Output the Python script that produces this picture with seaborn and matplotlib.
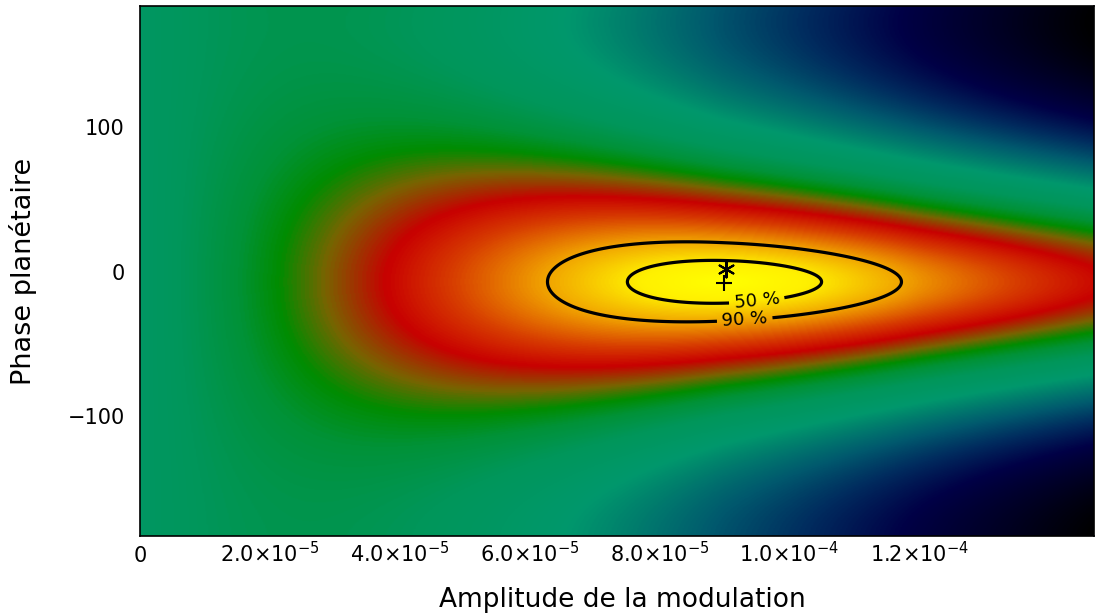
import numpy as np
import matplotlib
matplotlib.use("Agg")
import matplotlib.pyplot as plt
from matplotlib.colors import LinearSegmentedColormap, Normalize
import seaborn as sns

# axis ranges (amplitude in units of 1e-5, phase in degrees)
amp_range = [0.0, 14.69]
phase_range = [-183.0, 184.0]

# likelihood model
amp_peak = 9.0          # x1e-5
phase_peak = -7.0       # deg
amp_width = 1.27        # x1e-5
amp_width_growth = 0.06
phase_width = 12.5      # deg
amp_power_left = 1.38
amp_power_right = 1.15

# markers
best_fit = [9.0, -7.5]      # '+'
reference = [9.03, 2.0]     # '*'

# credible regions
conf_levels = [0.50, 0.90]
conf_labels = ["50 %", "90 %"]
label_pos = [(9.49, -16.9), (9.31, -32.0)]

xtick_values = [0, 2, 4, 6, 8, 10, 12]
xtick_labels = ["0", r"$2.0{\times}10^{-5}$", r"$4.0{\times}10^{-5}$", r"$6.0{\times}10^{-5}$",
                r"$8.0{\times}10^{-5}$", r"$1.0{\times}10^{-4}$", r"$1.2{\times}10^{-4}$"]
ytick_values = [-100, 0, 100]
ytick_labels = ["\u2212100", "0", "100"]

# colour table: position in sqrt(chi2) -> colour
cmap_pos = [0.0, 1.0, 2.2, 3.3, 4.1, 4.85, 5.4, 5.9, 6.6, 7.6, 9.0, 9.9, 10.9, 11.9, 12.8]
cmap_rgb = [(255, 255, 0), (255, 240, 0), (240, 160, 0), (215, 60, 0), (200, 0, 0),
            (120, 100, 0), (0, 140, 0), (0, 146, 55), (0, 150, 90), (0, 152, 108),
            (0, 90, 110), (0, 45, 95), (0, 0, 70), (0, 0, 35), (0, 0, 0)]

sns.set_style("white")
plt.rcParams["font.family"] = ["DejaVu Sans"]
plt.rcParams["mathtext.fontset"] = "dejavusans"
plt.rcParams.update({"text.color": "black", "axes.labelcolor": "black",
                     "xtick.color": "black", "ytick.color": "black"})

# likelihood surface
amp = np.linspace(amp_range[0], amp_range[1], 700)
phase = np.linspace(phase_range[0], phase_range[1], 600)
AA, PP = np.meshgrid(amp, phase)
sig_a = amp_width + amp_width_growth * np.clip(AA - amp_peak - 3.0, 0, None)
a2 = ((AA - amp_peak) / sig_a) ** 2
dphi = np.deg2rad(PP - phase_peak)
h = 2 * (1 - np.cos(dphi)) / np.deg2rad(phase_width) ** 2
power = np.where(AA < amp_peak, amp_power_left, amp_power_right)
chi2 = a2 + (AA / amp_peak) ** power * h
s = np.sqrt(chi2)

cmap = LinearSegmentedColormap.from_list(
    "idl", [(p / cmap_pos[-1], tuple(c / 255 for c in rgb)) for p, rgb in zip(cmap_pos, cmap_rgb)])

fig = plt.figure(figsize=(10.95, 6.16), dpi=100)
ax = fig.add_axes([140 / 1095, 80 / 616, 954 / 1095, 530 / 616])

ax.imshow(s, extent=[amp_range[0] * 1e-5, amp_range[1] * 1e-5, phase_range[0], phase_range[1]],
          origin="lower", aspect="auto", cmap=cmap, norm=Normalize(0, cmap_pos[-1]),
          interpolation="bilinear")

levels = [-2 * np.log(1 - p) for p in conf_levels]
cs = ax.contour(AA * 1e-5, PP, chi2, levels=levels, colors="black", linewidths=2.3)
ax.clabel(cs, levels, fmt=dict(zip(cs.levels, conf_labels)), inline=True, fontsize=13,
          manual=[(x * 1e-5, y) for x, y in label_pos])

sns.scatterplot(x=[reference[0] * 1e-5], y=[reference[1]], marker=(6, 2, 0), s=130,
                color="black", linewidth=1.5, ax=ax, zorder=5)
sns.scatterplot(x=[best_fit[0] * 1e-5], y=[best_fit[1]], marker="+", s=130,
                color="black", linewidth=1.5, ax=ax, zorder=5)

ax.set_xlim(amp_range[0] * 1e-5, amp_range[1] * 1e-5)
ax.set_ylim(phase_range[0], phase_range[1])
ax.set_xticks([v * 1e-5 for v in xtick_values])
ax.set_xticklabels(xtick_labels)
ax.set_yticks(ytick_values)
ax.set_yticklabels(ytick_labels)
ax.tick_params(length=0, labelsize=15)
ax.tick_params(axis="y", pad=11)
ax.tick_params(axis="x", pad=19)
for lab in ax.get_xticklabels():
    lab.set_va("baseline")

ax.set_xlabel("Amplitude de la modulation", fontsize=19)
ax.xaxis.set_label_coords(0.506, -0.134)
ax.xaxis.label.set_va("baseline")
ax.set_ylabel("Phase planétaire", fontsize=19.5)
ax.yaxis.set_label_coords(-0.1226, 0.5)
ax.yaxis.label.set_va("center")

for sp in ax.spines.values():
    sp.set_color("black")
    sp.set_linewidth(1.2)

fig.savefig("out.png", dpi=100)
